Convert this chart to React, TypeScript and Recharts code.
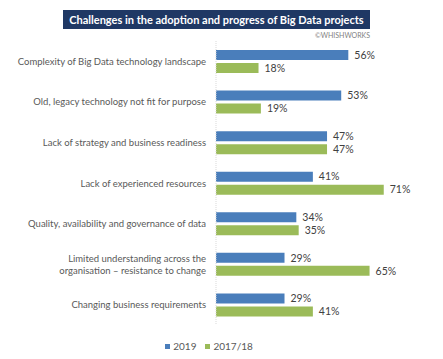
import { BarChart, Bar, XAxis, YAxis, Legend, LabelList } from 'recharts'

const categories = [
  'Complexity of Big Data technology landscape',
  'Old, legacy technology not fit for purpose',
  'Lack of strategy and business readiness',
  'Lack of experienced resources',
  'Quality, availability and governance of data',
  'Limited understanding across the\norganisation – resistance to change',
  'Changing business requirements',
]
const values2019 = [56, 53, 47, 41, 34, 29, 29]
const values2017 = [18, 19, 47, 71, 35, 65, 41]
const seriesNames = ['2019', '2017/18']
const seriesColors = ['#4a7ebb', '#9bbb59']

const data = categories.map((name, i) => ({
  name,
  y2019: values2019[i],
  y2017: values2017[i],
}))

const FONT = 'Lato, "Liberation Sans", sans-serif'

function CategoryTick(props: any) {
  const { x, y, payload } = props
  const lines = String(payload.value).split('\n')
  const lh = 12
  const start = -((lines.length - 1) * lh) / 2
  return (
    <text x={x - 2} y={y} textAnchor="end" fill="#595959" fontSize={9.5} fontFamily={FONT}>
      {lines.map((l, i) => (
        <tspan key={i} x={x - 2} dy={i === 0 ? start + 3.5 : lh}>
          {l}
        </tspan>
      ))}
    </text>
  )
}

function LegendContent() {
  return (
    <div style={{ display: 'flex', justifyContent: 'center', gap: 9, fontSize: 10, color: '#595959', fontFamily: FONT, marginLeft: 13, marginTop: 15 }}>
      {seriesNames.map((n, i) => (
        <span key={n} style={{ display: 'flex', alignItems: 'center' }}>
          <span style={{ width: 5, height: 5, background: seriesColors[i], marginRight: 3, display: 'inline-block' }} />
          {n}
        </span>
      ))}
    </div>
  )
}

export default function App() {
  return (
    <div style={{ position: 'absolute', left: 0, top: 0, width: 443, height: 359, background: '#fff', fontFamily: FONT }}>
      <div
        style={{
          position: 'absolute',
          left: 63,
          top: 10,
          width: 307,
          height: 19,
          background: '#1f3864',
          color: '#fff',
          fontWeight: 700,
          fontSize: 11,
          lineHeight: '19px',
          textAlign: 'center',
          whiteSpace: 'nowrap',
        }}
      >
        Challenges in the adoption and progress of Big Data projects
      </div>
      <div
        style={{
          position: 'absolute',
          right: 73,
          top: 31,
          fontSize: 7,
          color: '#7f7f7f',
        }}
      >
        ©WHISHWORKS
      </div>
      <BarChart
        width={443}
        height={359}
        data={data}
        layout="vertical"
        barSize={10}
        barGap={3}
        margin={{ top: 41, right: 38, left: 0, bottom: 8 }}
      >
        <XAxis type="number" domain={[0, 80]} hide />
        <YAxis
          type="category"
          dataKey="name"
          width={216}
          tick={<CategoryTick />}
          tickLine={false}
          axisLine={{ stroke: '#d9d9d9', strokeDasharray: '1 1' }}
          interval={0}
        />
        <Legend verticalAlign="bottom" height={26} content={<LegendContent />} />
        <Bar dataKey="y2019" name="2019" fill={seriesColors[0]} isAnimationActive={false}>
          <LabelList dataKey="y2019" position="right" offset={6} formatter={(v: any) => `${v}%`} fill="#404040" fontSize={10.5} fontFamily={FONT} />
        </Bar>
        <Bar dataKey="y2017" name="2017/18" fill={seriesColors[1]} isAnimationActive={false}>
          <LabelList dataKey="y2017" position="right" offset={6} formatter={(v: any) => `${v}%`} fill="#404040" fontSize={10.5} fontFamily={FONT} />
        </Bar>
      </BarChart>
    </div>
  )
}
